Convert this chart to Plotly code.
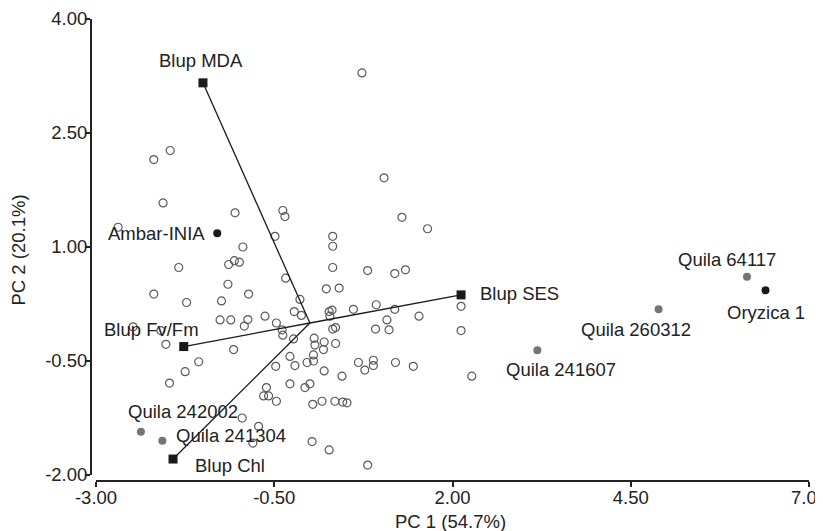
import plotly.graph_objects as go

# ---- genotypes (open circles): PC1 / PC2 scores ----
pc1 = [0.73, -2.19, -1.96, -2.06, -1.05, -0.38, -0.35, 1.04, 1.29, 1.65,
       -2.69, -0.49, 0.32, 0.32, -0.94, -1.84, -1.14, -1.06, -0.99, 0.32,
       0.81, 1.19, 1.34, -2.19, -1.73, -1.15, -0.86, -1.24, -0.34, 0.23,
       0.41, -0.14, -1.26, -1.11, -0.87, -0.92, -0.63, -0.47, -0.39, -0.38,
       -0.22, -0.12, 0.27, 0.31, 0.28, 0.61, 0.93, 1.19, 1.08, 1.53,
       0.92, 1.11, 0.36, 0.32, 2.12, 2.12, -2.48, -2.09, -2.02, -1.07,
       -1.56, -1.75, -1.97, -0.23, 0.06, 0.20, 0.07, 0.19, 0.36, 0.05,
       -0.04, 0.05, -0.28, -0.21, -0.48, 0.20, 0.45, 0.68, 0.77, 0.89,
       0.89, 1.20, 1.45, 2.27, -0.28, 0.00, -0.07, -0.61, -0.65, -0.58,
       -0.47, 0.04, 0.17, 0.35, 0.46, 0.52, -0.95, -0.72, -0.80, 0.03,
       0.27, 0.81]
pc2 = [3.29, 2.15, 2.27, 1.58, 1.45, 1.48, 1.40, 1.91, 1.39, 1.24,
       1.26, 1.14, 1.14, 1.01, 1.00, 0.73, 0.77, 0.82, 0.80, 0.73,
       0.69, 0.65, 0.70, 0.38, 0.27, 0.51, 0.38, 0.29, 0.59, 0.45,
       0.46, 0.31, 0.04, 0.04, 0.045, -0.04, 0.09, 0.00, -0.09, -0.16,
       0.15, 0.10, 0.15, 0.17, 0.09, 0.18, 0.24, 0.18, 0.04, 0.09,
       -0.08, -0.09, -0.06, -0.08, 0.22, -0.10, -0.05, -0.10, -0.28, -0.35,
       -0.51, -0.64, -0.79, -0.21, -0.20, -0.25, -0.29, -0.35, -0.27, -0.42,
       -0.52, -0.50, -0.44, -0.56, -0.57, -0.63, -0.70, -0.52, -0.62, -0.49,
       -0.56, -0.52, -0.57, -0.70, -0.80, -0.80, -0.85, -0.85, -0.96, -0.96,
       -1.03, -1.07, -1.03, -1.03, -1.04, -1.05, -1.25, -1.36, -1.58, -1.56,
       -1.67, -1.87]

# ---- highlighted genotypes ----
hl_names = ["Ambar-INIA", "Oryzica 1", "Quila 64117", "Quila 260312",
            "Quila 241607", "Quila 242002", "Quila 241304"]
hl_pc1 = [-1.30, 6.39, 6.13, 4.89, 3.19, -2.37, -2.07]
hl_pc2 = [1.18, 0.43, 0.61, 0.18, -0.36, -1.43, -1.55]
hl_group = ["check", "check", "line", "line", "line", "line", "line"]

# ---- trait vectors ----
vec_names = ["Blup MDA", "Blup SES", "Blup Fv/Fm", "Blup Chl"]
vec_pc1 = [-1.50, 2.12, -1.77, -1.92]
vec_pc2 = [3.16, 0.37, -0.31, -1.79]

# ---- axis ticks ----
x_ticks = [-3.0, -0.5, 2.0, 4.5, 7.0]
x_ticktext = ["-3.00", "-0.50", "2.00", "4.50", "7.00"]
y_ticks = [-2.0, -0.5, 1.0, 2.5, 4.0]
y_ticktext = ["-2.00", "-0.50", "1.00", "2.50", "4.00"]

FONT = "Liberation Sans, Arial, sans-serif"
TXT = "#222222"
FS = 18.5

# label placement (style only): name -> (xanchor, xshift, yshift)
label_style = {
    "Blup MDA": ("center", -2, 22),
    "Blup SES": ("left", 17, 1),
    "Blup Fv/Fm": ("center", -32, 17),
    "Blup Chl": ("left", 20, -6),
    "Ambar-INIA": ("right", -10, 0),
    "Oryzica 1": ("center", 0, -22),
    "Quila 64117": ("center", -20, 17),
    "Quila 260312": ("center", -23, -20),
    "Quila 241607": ("center", 24, -19),
    "Quila 242002": ("center", 42, 20),
    "Quila 241304": ("left", 12, 5),
}

fig = go.Figure()

fig.add_trace(go.Scatter(
    x=pc1, y=pc2, mode="markers",
    marker=dict(symbol="circle-open", size=8, color="#5a5a5a", line=dict(width=1.2)),
    showlegend=False, hoverinfo="skip"))

lx, ly = [], []
for vx, vy in zip(vec_pc1, vec_pc2):
    lx += [0, vx, None]
    ly += [0, vy, None]
fig.add_trace(go.Scatter(x=lx, y=ly, mode="lines",
                         line=dict(color="#1a1a1a", width=1.3),
                         showlegend=False, hoverinfo="skip"))
fig.add_trace(go.Scatter(x=vec_pc1, y=vec_pc2, mode="markers",
                         marker=dict(symbol="square", size=9, color="#1a1a1a"),
                         showlegend=False, hoverinfo="skip"))

colors = {"check": "#1a1a1a", "line": "#757575"}
fig.add_trace(go.Scatter(
    x=hl_pc1, y=hl_pc2, mode="markers",
    marker=dict(symbol="circle", size=8, color=[colors[g] for g in hl_group]),
    showlegend=False, hoverinfo="skip"))

annotations = []
for names, xs, ys in ((vec_names, vec_pc1, vec_pc2), (hl_names, hl_pc1, hl_pc2)):
    for n, x, y in zip(names, xs, ys):
        xa, dx, dy = label_style[n]
        annotations.append(dict(x=x, y=y, text=n, showarrow=False,
                                xanchor=xa, yanchor="middle", xshift=dx, yshift=dy,
                                font=dict(family=FONT, size=FS, color=TXT)))

annotations.append(dict(x=0.5, y=-0.087, xref="paper", yref="paper", text="PC 1 (54.7%)",
                        showarrow=False, xanchor="center", yanchor="middle",
                        font=dict(family=FONT, size=FS, color=TXT)))
annotations.append(dict(x=-0.101, y=0.5, xref="paper", yref="paper", text="PC 2 (20.1%)",
                        showarrow=False, textangle=-90, xanchor="center", yanchor="middle",
                        font=dict(family=FONT, size=FS, color=TXT)))

axis_common = dict(showgrid=False, zeroline=False, showline=True, linecolor="#222222",
                   linewidth=2, ticks="outside", ticklen=5, tickwidth=1.5, tickcolor="#222222",
                   tickfont=dict(family=FONT, size=FS, color=TXT), anchor="free", position=0,
                   automargin=False, ticklabeloverflow="allow")

# the page adds an 8px body margin, so the figure is sized/offset to compensate
fig.update_layout(
    width=815, height=523,
    margin=dict(l=83, r=14, t=11, b=50, autoexpand=False),
    paper_bgcolor="white", plot_bgcolor="white",
    xaxis=dict(range=[-3, 7], domain=[0.007, 1], tickvals=x_ticks, ticktext=x_ticktext,
               ticklabelstandoff=-5, **axis_common),
    yaxis=dict(range=[-2, 4], domain=[0.013, 1], tickvals=y_ticks, ticktext=y_ticktext,
               ticklabelstandoff=-6, **axis_common),
    annotations=annotations,
)

fig.write_html("out.html")
